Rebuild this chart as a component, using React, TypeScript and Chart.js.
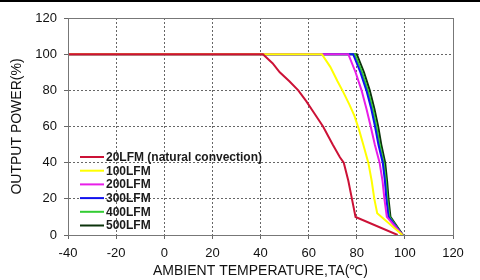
import React, { useEffect, useRef } from "react";
import { Chart, registerables } from "chart.js";

Chart.register(...registerables);

const xTicks = [-40, -20, 0, 20, 40, 60, 80, 100, 120];
const yTicks = [0, 20, 40, 60, 80, 100, 120];

const seriesLabels = [
  "20LFM (natural convection)",
  "100LFM",
  "200LFM",
  "300LFM",
  "400LFM",
  "500LFM",
];
const seriesColors = ["#cc1136", "#ffff00", "#e81ee8", "#1010ee", "#33cc33", "#0b330b"];

const lfm20Temp = [-40, 41, 45, 48, 52, 55.7, 59, 62, 66, 70, 73, 74.6, 76.5, 78, 79.5, 97];
const lfm20Power = [100, 100, 95, 90, 85, 80, 74, 68, 60, 50, 43, 40, 30, 20, 10, 0];

const lfm100Temp = [-40, 65.5, 69, 72, 74.4, 77, 79, 81, 82.7, 84.8, 86.2, 87.3, 88.5, 99];
const lfm100Power = [100, 100, 93, 85, 79, 72, 66, 58, 50, 40, 30, 20, 12, 0];

const lfm200Temp = [-40, 76.5, 79.5, 82, 84, 85.8, 87.5, 89.5, 90.7, 91.5, 92.5, 99];
const lfm200Power = [100, 100, 90, 80, 70, 60, 50, 40, 30, 20, 10, 0];

const lfm300Temp = [-40, 78.5, 81.5, 84, 86, 87.6, 89, 90.8, 91.7, 92.3, 93.2, 99];
const lfm300Power = [100, 100, 90, 80, 70, 60, 50, 40, 30, 20, 10, 0];

const lfm400Temp = [-40, 79.2, 82.2, 84.6, 86.6, 88.2, 89.5, 91.2, 92.1, 92.7, 93.6, 99];
const lfm400Power = [100, 100, 90, 80, 70, 60, 50, 40, 30, 20, 10, 0];

const lfm500Temp = [-40, 80, 83, 85.4, 87.3, 88.9, 90.2, 91.8, 92.6, 93.2, 94, 99.2];
const lfm500Power = [100, 100, 90, 80, 70, 60, 50, 40, 30, 20, 10, 0];

const seriesTemps = [lfm20Temp, lfm100Temp, lfm200Temp, lfm300Temp, lfm400Temp, lfm500Temp];
const seriesPowers = [lfm20Power, lfm100Power, lfm200Power, lfm300Power, lfm400Power, lfm500Power];

const FONT = "'Liberation Sans', Arial, sans-serif";

const legendPlugin = {
  id: "insideLegend",
  afterDatasetsDraw(chart: any) {
    const { ctx, chartArea } = chart;
    ctx.save();
    ctx.font = `bold 12px ${FONT}`;
    ctx.textBaseline = "middle";
    ctx.textAlign = "left";
    const x0 = chartArea.left + 12;
    const y0 = chartArea.top + 139;
    const step = 13.7;
    chart.data.datasets.forEach((ds: any, i: number) => {
      const y = y0 + i * step;
      ctx.strokeStyle = ds.borderColor;
      ctx.lineWidth = 2;
      ctx.beginPath();
      ctx.moveTo(x0, y);
      ctx.lineTo(x0 + 24, y);
      ctx.stroke();
      ctx.fillStyle = "#1a1a1a";
      ctx.fillText(ds.label, x0 + 26, y + 0.5);
    });
    ctx.restore();
  },
};

const framePlugin = {
  id: "frame",
  beforeDraw(chart: any) {
    const { ctx, width } = chart;
    ctx.save();
    ctx.fillStyle = "#ffffff";
    ctx.fillRect(0, 0, width, chart.height);
    ctx.fillStyle = "#000";
    ctx.fillRect(0, 0, width, 2);
    ctx.restore();
  },
  afterDraw(chart: any) {
    const { ctx, chartArea: a } = chart;
    ctx.save();
    ctx.strokeStyle = "#777";
    ctx.lineWidth = 1;
    ctx.setLineDash([]);
    ctx.strokeRect(a.left + 0.5, a.top + 0.5, a.right - a.left, a.bottom - a.top);
    ctx.restore();
  },
};

export default function App() {
  const ref = useRef<HTMLCanvasElement | null>(null);

  useEffect(() => {
    document.body.style.margin = "0";
    if (!ref.current) return;
    const datasets = seriesLabels.map((label, i) => ({
      label,
      data: seriesTemps[i].map((t, j) => ({ x: t, y: seriesPowers[i][j] })),
      borderColor: seriesColors[i],
      backgroundColor: seriesColors[i],
      borderWidth: 2,
      pointRadius: 0,
      tension: 0,
      fill: false,
    }));
    const chart = new Chart(ref.current, {
      type: "line",
      data: { datasets },
      plugins: [framePlugin, legendPlugin],
      options: {
        responsive: false,
        animation: false,
        layout: { padding: { left: 0, top: 18, right: 27, bottom: 0 } },
        plugins: { legend: { display: false }, tooltip: { enabled: false } },
        scales: {
          x: {
            type: "linear",
            min: -40,
            max: 120,
            afterBuildTicks: (s: any) => {
              s.ticks = xTicks.map((v) => ({ value: v }));
            },
            afterFit: (s: any) => {
              s.height = 45;
            },
            ticks: {
              font: { family: FONT, size: 13 },
              color: "#111",
              padding: 7,
              maxRotation: 0,
            },
            grid: {
              color: "#666",
              tickLength: 4,
              tickColor: "#666",
            },
            border: { display: true, color: "#777", width: 1, dash: [2, 2] },
            title: {
              display: true,
              text: "AMBIENT TEMPERATURE,TA(℃)",
              font: { family: FONT, size: 14 },
              color: "#111",
              padding: { top: -2, bottom: 0 },
            },
          },
          y: {
            type: "linear",
            min: 0,
            max: 120,
            afterBuildTicks: (s: any) => {
              s.ticks = yTicks.map((v) => ({ value: v }));
            },
            afterFit: (s: any) => {
              s.width = 68;
            },
            ticks: {
              font: { family: FONT, size: 13 },
              color: "#111",
              padding: 7,
            },
            grid: {
              color: "#666",
              tickLength: 4,
              tickColor: "#666",
            },
            border: { display: true, color: "#777", width: 1, dash: [2, 2] },
            title: {
              display: true,
              text: "OUTPUT POWER(%)",
              font: { family: FONT, size: 14 },
              color: "#111",
              padding: { top: 9, bottom: 0 },
            },
          },
        },
      },
    });
    return () => chart.destroy();
  }, []);

  return (
    <div style={{ width: 480, height: 280 }}>
      <canvas ref={ref} width={480} height={280} style={{ width: 480, height: 280, display: "block" }} />
    </div>
  );
}
